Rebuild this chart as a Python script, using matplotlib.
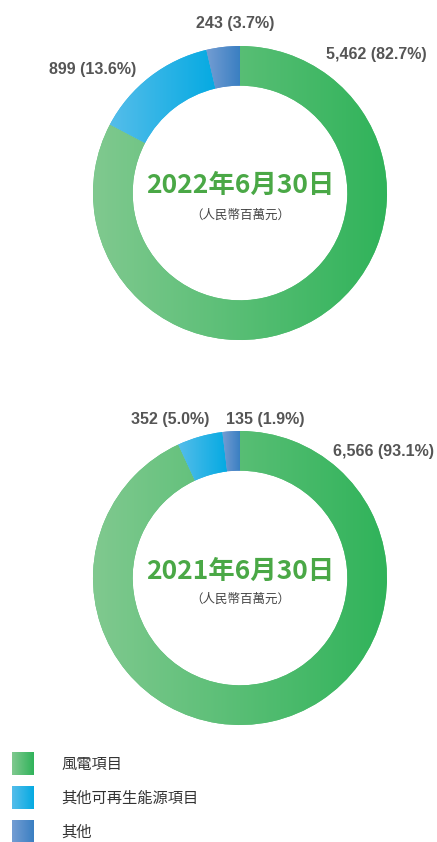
import numpy as np
import matplotlib.pyplot as plt
from matplotlib.colors import to_rgb

plt.rcParams['font.family'] = ['Noto Sans CJK TC', 'DejaVu Sans']

# segment data: wind, other renewables, other
categories = ['風電項目', '其他可再生能源項目', '其他']
values_2022 = [5462, 899, 243]
pct_2022 = [82.7, 13.6, 3.7]
values_2021 = [6566, 352, 135]
pct_2021 = [93.1, 5.0, 1.9]
titles = ['2022年6月30日', '2021年6月30日']
unit_label = '（人民幣百萬元）'

# left -> right gradient for each segment
gradients = [('#80c98f', '#30b35a'), ('#55bdea', '#05aae2'), ('#749dd3', '#3a7fc2')]

W, H = 437, 842
fig = plt.figure(figsize=(W / 100, H / 100), dpi=100)


def grad_img(c0, c1, n=256):
    a, b = np.array(to_rgb(c0)), np.array(to_rgb(c1))
    t = np.linspace(0, 1, n)[:, None]
    return (a + (b - a) * t)[None, :, :]


def donut(cx, cy, r, values, pcts, title, label_pos, title_y, unit_y):
    ax = fig.add_axes([(cx - r) / W, (H - cy - r) / H, 2 * r / W, 2 * r / H])
    wedges, _ = ax.pie(values, startangle=90, counterclock=False, radius=1,
                       wedgeprops=dict(width=0.27, linewidth=0))
    for w, (c0, c1) in zip(wedges, gradients):
        mid = tuple((np.array(to_rgb(c0)) + np.array(to_rgb(c1))) / 2)
        w.set_facecolor(mid)
        ext = w.get_path().get_extents()
        im = ax.imshow(grad_img(c0, c1), extent=[ext.x0, ext.x1, ext.y0, ext.y1],
                       aspect='auto', interpolation='bilinear', zorder=2)
        im.set_clip_path(w)
    ax.set_xlim(-1, 1)
    ax.set_ylim(-1, 1)
    ax.set_aspect('auto')
    ax.axis('off')

    for v, p, (x, y) in zip(values, pcts, label_pos):
        ax.text(x, y, f'{v:,} ({p:.1f}%)', ha='center', va='center',
                fontsize=11.5, fontweight='bold', color='#555555',
                family=['Liberation Sans', 'DejaVu Sans'], clip_on=False)

    ax.text(0, title_y, title, ha='center', va='center', fontsize=19,
            fontweight='bold', color='#4aa846')
    ax.text(0, unit_y, unit_label, ha='center', va='center', fontsize=9,
            color='#444444')


donut(240, 193, 147, values_2022, pct_2022, titles[0],
      [(0.93, 0.94), (-1.0, 0.84), (-0.03, 1.15)], 0.05, -0.15)
donut(240, 578, 147, values_2021, pct_2021, titles[1],
      [(0.975, 0.86), (-0.475, 1.075), (0.17, 1.08)], 0.045, -0.145)

# legend with gradient swatches
lax = fig.add_axes([0, 0, 1, 1])
lax.set_xlim(0, W)
lax.set_ylim(H, 0)
lax.axis('off')
for i, (name, (c0, c1)) in enumerate(zip(categories, gradients)):
    y = 764 + i * 34
    lax.imshow(grad_img(c0, c1), extent=[12, 34, y + 11.5, y - 11.5],
               aspect='auto', interpolation='bilinear')
    lax.text(61, y, name, ha='left', va='center', fontsize=11, color='#333333')
lax.set_xlim(0, W)
lax.set_ylim(H, 0)

fig.savefig('out.png', dpi=100)
